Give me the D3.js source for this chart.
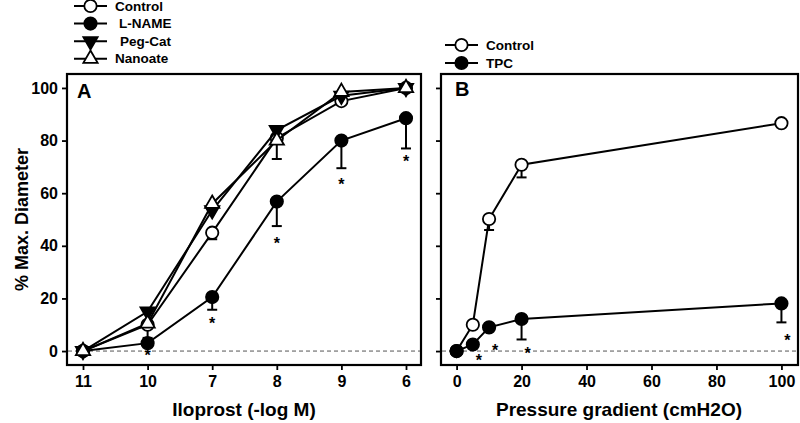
<!DOCTYPE html>
<html>
<head>
<meta charset="utf-8">
<script src="https://cdn.jsdelivr.net/npm/d3@7"></script>
<style>
  body { margin: 0; background: #fff; }
  svg { display: block; font-family: "Liberation Sans", Arial, sans-serif; }
  text { font-weight: bold; fill: #000; }
</style>
</head>
<body>
<svg id="chart" width="800" height="423"></svg>
<script>
// panel A: iloprost dose response
const catsA = ['11', '10', '7', '8', '9', '6'];
const controlA = [0, 10, 45, 81, 95, 100];
const controlAErr = [0, 5, 2.5, 8, 0, 0];
const lnameA = [0, 3, 20.5, 56.8, 80, 88.5];
const lnameAErr = [0, 0, 4.8, 9.3, 10.5, 11.5];
const pegcatA = [0, 15, 53.5, 84, 97, 100];
const nanoateA = [0, 10.5, 56, 80, 98.5, 100];
const starA = [null, -0.4, 11.8, 42.2, 64.6, 73.4];

// panel B: pressure gradient
const pressB = [0, 5, 10, 20, 100];
const controlB = [0, 10, 50.2, 70.8, 86.6];
const controlBErr = [0, 0, 4.2, 4.8, 0];
const tpcB = [0, 2.5, 9, 12.2, 18.1];
const tpcBErr = [0, 0, 0, 7.8, 7.2];
const starB = [null, -2.3, 1.5, 0.4, 5.3];

const yTicks = [0, 20, 40, 60, 80, 100];
const xTicksB = [0, 20, 40, 60, 80, 100];

const svg = d3.select('#chart');
const plotTop = 74, plotBottom = 365;

const y = d3.scaleLinear().domain([-5.3, 105.3]).range([plotBottom, plotTop]);
const xA = d3.scalePoint().domain(catsA).range([83, 406]);
const xB = d3.scaleLinear().domain([-4.8, 105.1]).range([441, 798]);

const circle = d3.symbol().type(d3.symbolCircle).size(120);
const tri = d3.symbol().type(d3.symbolTriangle).size(88);

function frame(x0, x1) {
  svg.append('rect')
    .attr('x', x0).attr('y', plotTop)
    .attr('width', x1 - x0).attr('height', plotBottom - plotTop)
    .attr('fill', 'none').attr('stroke', '#000').attr('stroke-width', 2.2);
  svg.append('line')
    .attr('x1', x0 + 1).attr('x2', x1 - 1)
    .attr('y1', y(0)).attr('y2', y(0))
    .attr('stroke', '#555').attr('stroke-width', 1)
    .attr('stroke-dasharray', '4,3');
}

function yAxis(x0) {
  const g = svg.append('g').attr('transform', `translate(${x0},0)`)
    .call(d3.axisLeft(y).tickValues(yTicks).tickSize(5).tickSizeOuter(0));
  g.select('.domain').remove();
  g.selectAll('line').attr('stroke-width', 1.8);
  g.selectAll('text').attr('font-size', 16).attr('font-weight', 'bold')
    .attr('font-family', '"Liberation Sans", Arial, sans-serif').attr('x', -9);
  return g;
}

function xAxis(scale, ticks) {
  const axis = d3.axisBottom(scale).tickSize(5).tickSizeOuter(0);
  if (ticks) axis.tickValues(ticks);
  const g = svg.append('g').attr('transform', `translate(0,${plotBottom})`).call(axis);
  g.select('.domain').remove();
  g.selectAll('line').attr('stroke-width', 1.8);
  g.selectAll('text').attr('font-size', 16).attr('font-weight', 'bold')
    .attr('font-family', '"Liberation Sans", Arial, sans-serif').attr('y', 11);
}

function series(xs, getX, vals, errs, kind) {
  const pts = xs.map((d, i) => [getX(d), y(vals[i])]);
  svg.append('path').attr('d', d3.line()(pts))
    .attr('fill', 'none').attr('stroke', '#000').attr('stroke-width', 2);
  if (errs) {
    xs.forEach((d, i) => {
      if (!errs[i]) return;
      const px = getX(d), y0 = y(vals[i]), y1 = y(vals[i] - errs[i]);
      svg.append('line').attr('x1', px).attr('x2', px).attr('y1', y0).attr('y2', y1)
        .attr('stroke', '#000').attr('stroke-width', 2);
      svg.append('line').attr('x1', px - 5).attr('x2', px + 5).attr('y1', y1).attr('y2', y1)
        .attr('stroke', '#000').attr('stroke-width', 2);
    });
  }
  pts.forEach(p => marker(p[0], p[1], kind));
}

function marker(px, py, kind) {
  const m = svg.append('path').attr('stroke', '#000').attr('stroke-width', 1.8);
  if (kind === 'open') m.attr('d', circle()).attr('fill', '#fff').attr('transform', `translate(${px},${py})`);
  if (kind === 'filled') m.attr('d', circle()).attr('fill', '#000').attr('transform', `translate(${px},${py})`);
  if (kind === 'down') m.attr('d', tri()).attr('fill', '#000').attr('transform', `translate(${px},${py}) rotate(180)`);
  if (kind === 'up') m.attr('d', tri()).attr('fill', '#fff').attr('transform', `translate(${px},${py})`);
}

function stars(xs, getX, levels, dx) {
  xs.forEach((d, i) => {
    if (levels[i] == null) return;
    svg.append('text').attr('x', getX(d) + dx).attr('y', y(levels[i]) + 9)
      .attr('text-anchor', 'middle').attr('font-size', 16).attr('font-weight', 'normal')
      .text('*');
  });
}

function legend(x0, y0, step, items) {
  items.forEach((it, i) => {
    const yy = y0 + i * step;
    svg.append('line').attr('x1', x0).attr('x2', x0 + 33).attr('y1', yy).attr('y2', yy)
      .attr('stroke', '#000').attr('stroke-width', 2);
    marker(x0 + 16.5, yy, it.kind);
    svg.append('text').attr('x', x0 + 41 + (it.dx || 0)).attr('y', yy)
      .attr('dominant-baseline', 'central').attr('font-size', 13.5).text(it.label);
  });
}

// panel A
frame(67, 421);
yAxis(67);
xAxis(xA);
stars(catsA, d => xA(d), starA, 0);
series(catsA, d => xA(d), controlA, controlAErr, 'open');
series(catsA, d => xA(d), lnameA, lnameAErr, 'filled');
series(catsA, d => xA(d), pegcatA, null, 'down');
series(catsA, d => xA(d), nanoateA, null, 'up');
svg.append('text').attr('x', 77).attr('y', 98).attr('font-size', 20).text('A');

// panel B
frame(441, 798);
yAxis(441).selectAll('text').remove();
xAxis(xB, xTicksB);
stars(pressB, d => xB(d), starB, 6);
series(pressB, d => xB(d), controlB, controlBErr, 'open');
series(pressB, d => xB(d), tpcB, tpcBErr, 'filled');
svg.append('text').attr('x', 455).attr('y', 96).attr('font-size', 20).text('B');

// legends
legend(74, 6, 17.6, [
  {label: 'Control', kind: 'open'},
  {label: 'L-NAME', kind: 'filled', dx: 4},
  {label: 'Peg-Cat', kind: 'down', dx: 5},
  {label: 'Nanoate', kind: 'up'}
]);
legend(445, 45, 18, [
  {label: 'Control', kind: 'open'},
  {label: 'TPC', kind: 'filled'}
]);

// axis titles
svg.append('text').attr('transform', `translate(22,${(plotTop + plotBottom) / 2}) rotate(-90)`)
  .attr('text-anchor', 'middle').attr('dominant-baseline', 'central')
  .attr('font-size', 18).text('% Max. Diameter');
svg.append('text').attr('x', 244).attr('y', 416).attr('text-anchor', 'middle')
  .attr('font-size', 19).text('Iloprost (-log M)');
svg.append('text').attr('x', 619).attr('y', 416).attr('text-anchor', 'middle')
  .attr('font-size', 19).text('Pressure gradient (cmH2O)');
</script>
</body>
</html>
